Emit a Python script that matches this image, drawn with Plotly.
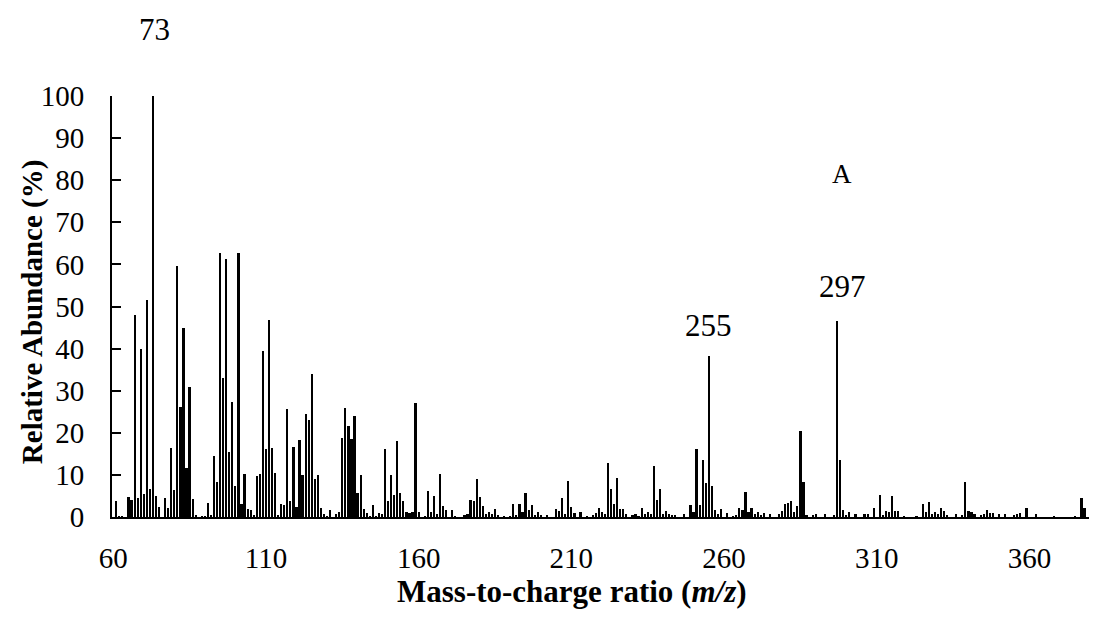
import plotly.graph_objects as go

mz = [61, 62, 63, 65, 66, 67, 68, 69, 70, 71, 72, 73, 74, 75, 77, 78, 79, 80, 81, 82,
      83, 84, 85, 86, 87, 89, 90, 91, 92, 93, 94, 95, 96, 97, 98, 99, 100, 101, 102, 103,
      104, 105, 106, 107, 108, 109, 110, 111, 112, 113, 114, 115, 116, 117, 118, 119, 120,
      121, 122, 123, 124, 125, 126, 127, 128, 129, 130, 131, 133, 134, 135, 136, 137, 138,
      139, 140, 141, 142, 143, 144, 145, 146, 147, 148, 149, 150, 151, 152, 153, 154, 155,
      156, 157, 158, 159, 160, 162, 163, 164, 165, 166, 167, 168, 169, 171, 172, 175, 176,
      177, 178, 179, 180, 181, 182, 183, 184, 185, 186, 188, 190, 191, 192, 193, 194, 195,
      196, 197, 198, 199, 200, 202, 205, 206, 207, 208, 209, 210, 211, 213, 215, 217, 218,
      219, 220, 221, 222, 223, 224, 225, 226, 227, 228, 230, 231, 232, 233, 234, 235, 236,
      237, 238, 239, 240, 241, 242, 243, 244, 247, 249, 250, 251, 252, 253, 254, 255, 256,
      257, 258, 259, 261, 263, 264, 265, 266, 267, 268, 269, 270, 271, 272, 273, 275, 278,
      279, 280, 281, 282, 283, 284, 285, 286, 287, 289, 290, 293, 296, 297, 298, 299, 300,
      301, 303, 306, 307, 309, 311, 312, 313, 314, 315, 316, 317, 319, 323, 325, 326, 327,
      328, 329, 330, 331, 332, 333, 336, 338, 339, 340, 341, 342, 344, 345, 346, 347, 348,
      350, 352, 355, 356, 357, 359, 362, 368, 375, 377, 378, 381]

abundance = [3.8, 0.2, 0.2, 4.8, 4.0, 48, 4.5, 40, 5.5, 51.5, 6.7, 100, 4.9, 2.4, 4.5, 2.1, 16.4, 6.3, 59.6, 26.1,
             45, 11.6, 30.8, 4.3, 0.3, 0.2, 0.2, 3.3, 0.4, 14.4, 8.3, 62.8, 33, 61.4, 15.4, 27.3, 7.3, 62.7, 3, 10.3,
             1.8, 1.7, 0.4, 9.7, 10.3, 39.4, 16.2, 46.9, 16.5, 10.5, 0.4, 3, 2.9, 25.7, 3.7, 16.6, 2.4,
             18.2, 10, 24.4, 23, 33.9, 9.1, 9.9, 2.1, 0.6, 0.2, 1.6, 0.8, 1.2, 18.8, 25.9, 21.6, 18.6,
             23.9, 5.7, 10, 2, 1, 0.2, 2.9, 0.2, 1, 0.8, 16.2, 3.7, 9.9, 5.3, 18, 5.8, 3.7,
             1.3, 1, 1.2, 27.1, 1.3, 0.2, 6.2, 1.3, 5.1, 0.6, 10.3, 2.6, 1.7, 1.6, 0.2, 0.4, 0.6,
             4.1, 3.7, 9, 4.75, 2.5, 0.6, 1.2, 0.6, 2, 0.4, 0.2, 0.2, 3.2, 0.4, 3, 1.2, 5.7,
             1.6, 2.8, 0.4, 1.1, 0.5, 0.3, 1.9, 1.5, 4.4, 0.6, 8.6, 2.3, 1, 1.1, 0.2, 0.3, 1,
             2.2, 1.3, 0.8, 12.9, 6.7, 3.2, 9.3, 1.9, 1.9, 0.8, 0.3, 0.6, 0.2, 2.2, 0.6, 1.2, 0.8,
             12.2, 4.1, 6.7, 0.6, 1.4, 0.7, 0.3, 0.5, 0.8, 2.8, 1.3, 16.2, 2.9, 13.5, 8.1, 38.2, 7.3,
             1.7, 0.7, 2.0, 1, 0.2, 0.5, 2.2, 1.6, 5.9, 1.3, 2.1, 0.6, 1.2, 0.3, 1, 0.7, 0.6,
             1.5, 3.1, 3.3, 3.9, 1.3, 2.5, 20.5, 8.2, 0.4, 0.5, 0.7, 0.7, 0.3, 46.6, 13.5, 1.7, 0.4,
             1.3, 0.6, 0.8, 0.6, 2.1, 5.3, 0.4, 1.4, 1.1, 5.1, 1.5, 1.5, 0.2, 0.2, 3.2, 1.2, 3.6,
             0.6, 1.3, 0.7, 2.1, 1.4, 0.5, 0.8, 0.3, 8.4, 1.4, 1.1, 0.7, 0.5, 0.8, 1.7, 1, 1,
             0.6, 0.7, 0.3, 0.6, 1, 2.1, 0.8, 0.2, 0.2, 4.5, 2.1, 1.2]

x_ticks = [60, 110, 160, 210, 260, 310, 360]
y_ticks = [0, 10, 20, 30, 40, 50, 60, 70, 80, 90, 100]

# (text, x in m/z, y in paper fraction, font size)
peak_labels = [("73", 73.5, 1.157, 31), ("255", 255, 0.456, 31), ("297", 298.7, 0.547, 31), ("A", 298.5, 0.815, 27)]

FONT = "Liberation Serif, Times New Roman, serif"

fig = go.Figure()
fig.add_trace(go.Bar(x=mz, y=abundance, width=0.72,
                     marker=dict(color="#000000", line=dict(width=0))))

for text, xv, yv, size in peak_labels:
    fig.add_annotation(x=xv, y=yv, xref="x", yref="paper", text=text, showarrow=False,
                       xanchor="center", yanchor="middle",
                       font=dict(family=FONT, size=size, color="black"))

fig.add_annotation(x=0.467, y=-0.177, xref="paper", yref="paper",
                   text="<b>Mass-to-charge ratio (<i>m/z</i>)</b>", showarrow=False,
                   xanchor="center", yanchor="middle",
                   font=dict(family=FONT, size=31, color="black"))
fig.add_annotation(x=-0.08, y=0.487, xref="paper", yref="paper",
                   text="<b>Relative Abundance (%)</b>", showarrow=False, textangle=-90,
                   xanchor="center", yanchor="middle",
                   font=dict(family=FONT, size=29, color="black"))

fig.update_layout(
    width=1089, height=609,
    margin=dict(l=104, r=0, t=88, b=100),
    paper_bgcolor="white", plot_bgcolor="white",
    showlegend=False, bargap=0,
    font=dict(family=FONT, size=29, color="black"),
)
fig.update_xaxes(range=[59.6, 382.1], tickvals=x_ticks, ticktext=[str(v) for v in x_ticks],
                 showline=True, linewidth=2, linecolor="black", ticks="",
                 showgrid=False, zeroline=False, ticklabelstandoff=14,
                 tickfont=dict(family=FONT, size=29, color="black"))
fig.update_yaxes(range=[0, 100], tickvals=y_ticks, ticktext=[str(v) for v in y_ticks],
                 showline=True, linewidth=2, linecolor="black", ticks="inside",
                 ticklen=9, tickwidth=2, tickcolor="black",
                 showgrid=False, zeroline=False, ticklabelstandoff=20,
                 tickfont=dict(family=FONT, size=29, color="black"))

fig.write_html("out.html")
